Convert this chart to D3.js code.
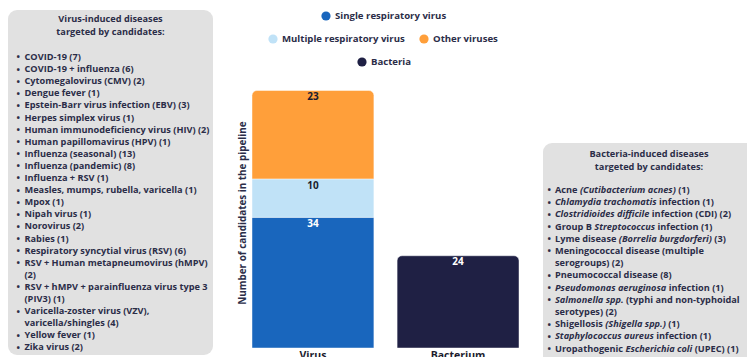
<!DOCTYPE html>
<html>
<head>
<meta charset="utf-8">
<script src="https://cdn.jsdelivr.net/npm/d3@7"></script>
<style>
  html, body { margin: 0; padding: 0; background: #fff; }
  svg { display: block; font-family: "Open Sans", "DejaVu Sans", sans-serif; font-weight: 700; }
</style>
</head>
<body>
<svg id="chart" width="747" height="357"></svg>
<script>
// Pipeline candidates by pathogen type
const categories = ["Virus", "Bacterium"];
const seriesNames = ["Single respiratory virus", "Multiple respiratory virus", "Other viruses", "Bacteria"];
const seriesColors = ["#1966bd", "#c0e2f7", "#ff9f3a", "#1f2044"];
const labelColors = ["#ffffff", "#1b1c2e", "#1b1c2e", "#ffffff"];
// value of each series for [Virus, Bacterium]
const singleRespiratory = [34, 0];
const multipleRespiratory = [10, 0];
const otherViruses = [23, 0];
const bacteria = [0, 24];

// Diseases listed beside the bars; each line is a list of [text, italic] runs,
// lines beginning with a bullet start a new item
const virusTitle = ["Virus-induced diseases", "targeted by candidates:"];
const virusDiseases = [
  ["•", [["COVID-19 (7)"]]],
  ["•", [["COVID-19 + influenza (6)"]]],
  ["•", [["Cytomegalovirus (CMV) (2)"]]],
  ["•", [["Dengue fever (1)"]]],
  ["•", [["Epstein-Barr virus infection (EBV) (3)"]]],
  ["•", [["Herpes simplex virus (1)"]]],
  ["•", [["Human immunodeficiency virus (HIV) (2)"]]],
  ["•", [["Human papillomavirus (HPV) (1)"]]],
  ["•", [["Influenza (seasonal) (13)"]]],
  ["•", [["Influenza (pandemic) (8)"]]],
  ["•", [["Influenza + RSV (1)"]]],
  ["•", [["Measles, mumps, rubella, varicella (1)"]]],
  ["•", [["Mpox (1)"]]],
  ["•", [["Nipah virus (1)"]]],
  ["•", [["Norovirus (2)"]]],
  ["•", [["Rabies (1)"]]],
  ["•", [["Respiratory syncytial virus (RSV) (6)"]]],
  ["•", [["RSV + Human metapneumovirus (hMPV)"]]],
  ["",  [["(2)"]]],
  ["•", [["RSV + hMPV + parainfluenza virus type 3"]]],
  ["",  [["(PIV3) (1)"]]],
  ["•", [["Varicella-zoster virus (VZV),"]]],
  ["",  [["varicella/shingles (4)"]]],
  ["•", [["Yellow fever (1)"]]],
  ["•", [["Zika virus (2)"]]]
];
const bacteriaTitle = ["Bacteria-induced diseases", "targeted by candidates:"];
const bacteriaDiseases = [
  ["•", [["Acne "], ["(Cutibacterium acnes)", true], [" (1)"]]],
  ["•", [["Chlamydia trachomatis", true], [" infection (1)"]]],
  ["•", [["Clostridioides difficile", true], [" infection (CDI) (2)"]]],
  ["•", [["Group B "], ["Streptococcus", true], [" infection (1)"]]],
  ["•", [["Lyme disease "], ["(Borrelia burgdorferi)", true], [" (3)"]]],
  ["•", [["Meningococcal disease (multiple"]]],
  ["",  [["serogroups) (2)"]]],
  ["•", [["Pneumococcal disease (8)"]]],
  ["•", [["Pseudomonas aeruginosa", true], [" infection (1)"]]],
  ["•", [["Salmonella spp.", true], [" (typhi and non-typhoidal"]]],
  ["",  [["serotypes) (2)"]]],
  ["•", [["Shigellosis "], ["(Shigella spp.)", true], [" (1)"]]],
  ["•", [["Staphylococcus aureus", true], [" infection (1)"]]],
  ["•", [["Uropathogenic "], ["Escherichia coli", true], [" (UPEC) (1)"]]]
];

const textColor = "#2b2d48";
const svg = d3.select("#chart");

// ---------- disease panels ----------
function panel(g, box, title, lines, opts) {
  g.append("rect")
    .attr("x", box.x).attr("y", box.y)
    .attr("width", box.w).attr("height", box.h)
    .attr("rx", 9).attr("ry", 9)
    .attr("fill", "#e1e1e1");
  g.selectAll("text.title").data(title).join("text")
    .attr("class", "title")
    .attr("x", box.x + box.w / 2)
    .attr("y", (d, i) => opts.titleY + i * opts.titleGap)
    .attr("text-anchor", "middle")
    .attr("dominant-baseline", "middle")
    .attr("font-size", opts.fontSize)
    .attr("fill", textColor)
    .text(d => d);
  const rows = g.selectAll("g.row").data(lines).join("g")
    .attr("class", "row")
    .attr("transform", (d, i) => `translate(0,${opts.listY + i * opts.lineGap})`);
  rows.append("text")
    .attr("x", opts.bulletX)
    .attr("dominant-baseline", "middle")
    .attr("font-size", opts.fontSize)
    .attr("fill", textColor)
    .text(d => d[0]);
  rows.append("text")
    .attr("x", opts.textX)
    .attr("dominant-baseline", "middle")
    .attr("font-size", opts.fontSize)
    .attr("fill", textColor)
    .selectAll("tspan").data(d => d[1]).join("tspan")
      .attr("font-style", r => r[1] ? "italic" : "normal")
      .attr("xml:space", "preserve")
      .text(r => r[0]);
}

panel(svg.append("g"), { x: 8, y: 10, w: 205, h: 345 }, virusTitle, virusDiseases,
  { titleY: 20, titleGap: 12.5, listY: 58, lineGap: 12.1, bulletX: 16.5, textX: 24.5, fontSize: 9.2 });
panel(svg.append("g"), { x: 543, y: 143, w: 212, h: 230 }, bacteriaTitle, bacteriaDiseases,
  { titleY: 155, titleGap: 12.5, listY: 191, lineGap: 12.2, bulletX: 547.5, textX: 555, fontSize: 9.2 });

// ---------- stacked bars ----------
const stackRows = categories.map((c, i) => ({
  category: c,
  "Single respiratory virus": singleRespiratory[i],
  "Multiple respiratory virus": multipleRespiratory[i],
  "Other viruses": otherViruses[i],
  "Bacteria": bacteria[i]
}));
const stacked = d3.stack().keys(seriesNames)(stackRows);

const x = d3.scaleBand().domain(categories).range([252, 519]).paddingInner(0.16).paddingOuter(0);
const y = d3.scaleLinear().domain([0, 67]).range([348, 90.5]);

// top segment of each bar gets rounded upper corners
const topKey = categories.map((c, i) => {
  let top = null;
  stacked.forEach(s => { if (s[i][1] - s[i][0] > 0) top = s.key; });
  return top;
});

function segPath(x0, x1, y0, y1, r) {
  const p = d3.path();
  p.moveTo(x0, y0);
  p.lineTo(x0, y1 + r);
  p.arcTo(x0, y1, x0 + r, y1, r);
  p.lineTo(x1 - r, y1);
  p.arcTo(x1, y1, x1, y1 + r, r);
  p.lineTo(x1, y0);
  p.closePath();
  return p.toString();
}

const barG = svg.append("g");
stacked.forEach((s, si) => {
  s.forEach((d, i) => {
    const v = d[1] - d[0];
    if (v <= 0) return;
    const cat = categories[i];
    const x0 = x(cat), x1 = x(cat) + x.bandwidth();
    const r = topKey[i] === s.key ? 5 : 0;
    barG.append("path")
      .attr("d", segPath(x0, x1, y(d[0]), y(d[1]), r))
      .attr("fill", seriesColors[si])
      .attr("stroke", "rgba(255,255,255,0.45)")
      .attr("stroke-width", 1);
    barG.append("text")
      .attr("x", x0 + x.bandwidth() / 2)
      .attr("y", y(d[1]) + 7)
      .attr("text-anchor", "middle")
      .attr("dominant-baseline", "middle")
      .attr("font-size", 10)
      .attr("fill", labelColors[si])
      .text(v);
  });
});

// category axis
const xAxis = svg.append("g")
  .attr("transform", "translate(0,349)")
  .call(d3.axisBottom(x).tickSize(0).tickPadding(3));
xAxis.select(".domain").remove();
xAxis.selectAll("text")
  .attr("font-family", "Open Sans, DejaVu Sans, sans-serif")
  .attr("font-weight", 700)
  .attr("font-size", 10.5)
  .attr("fill", "#1b1c2e");

// value axis title
svg.append("text")
  .attr("transform", "translate(243,213) rotate(-90)")
  .attr("text-anchor", "middle")
  .attr("dominant-baseline", "middle")
  .attr("font-size", 9.9)
  .attr("fill", textColor)
  .text("Number of candidates in the pipeline");

// ---------- legend ----------
const legendItems = [
  { name: seriesNames[0], color: seriesColors[0], cx: 326, cy: 16 },
  { name: seriesNames[1], color: seriesColors[1], cx: 273, cy: 39 },
  { name: seriesNames[2], color: seriesColors[2], cx: 424, cy: 39 },
  { name: seriesNames[3], color: seriesColors[3], cx: 362, cy: 62 }
];
const lg = svg.append("g").selectAll("g").data(legendItems).join("g")
  .attr("transform", d => `translate(${d.cx},${d.cy})`);
lg.append("circle").attr("r", 4.6).attr("fill", d => d.color);
lg.append("text")
  .attr("x", 9)
  .attr("dominant-baseline", "middle")
  .attr("font-size", 9.6)
  .attr("fill", textColor)
  .text(d => d.name);
</script>
</body>
</html>
